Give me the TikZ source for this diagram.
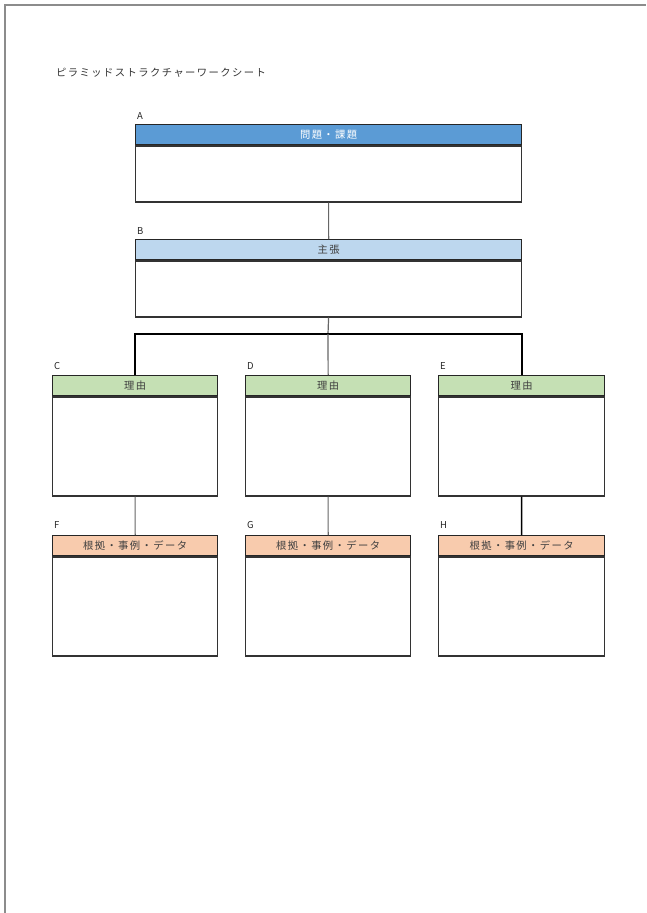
\documentclass[tikz,border=0pt]{standalone}
\usepackage{fontspec}
\setmainfont{Noto Sans CJK JP}
\newfontfamily\jp{Noto Sans CJK JP}
\newfontfamily\jpsp[LetterSpace=14]{Noto Sans CJK JP}
\definecolor{hblue}{HTML}{5B9BD5}
\definecolor{hlblue}{HTML}{BDD7EE}
\definecolor{hgreen}{HTML}{C5E0B4}
\definecolor{horange}{HTML}{F8CBAD}
\definecolor{txt}{HTML}{404040}
\definecolor{frame}{HTML}{8C8C8C}
\tikzset{
  x=1pt, y=-1pt,
  hdr/.style={draw=black!85, line width=1.3pt, anchor=north west, inner sep=0pt,
    minimum height=20pt, font=\jpsp\fontsize{10.3}{11}\selectfont, text=txt},
  body/.style={draw=black!80, line width=1.2pt, anchor=north west, inner sep=0pt, fill=white},
  lbl/.style={anchor=base west, inner sep=0pt, font=\jp\fontsize{9.5}{10}\selectfont, text=black!85},
  conn/.style={draw=black!60, line width=1.2pt},
  bar/.style={draw=black, line width=1.8pt},
}
\begin{document}
\begin{tikzpicture}
\useasboundingbox (0,0) rectangle (646,913);
% page frame
\draw[frame, line width=2pt] (5,913) -- (5,5) -- (646,5);
% title
\node[anchor=west, inner sep=0pt, font=\jpsp\fontsize{10.3}{11}\selectfont, text=black!80] (title) at (56,73) {ピラミッドストラクチャーワークシート};
% A
\node[lbl] (la) at (137,119) {A};
\node[hdr, fill=hblue, text=white, minimum width=386pt] (Ah) at (135,124) {問題・課題};
\node[body, minimum width=386pt, minimum height=56pt] (Ab) at (Ah.south west) {};
% B
\node[lbl] (lb) at (137,234) {B};
\node[hdr, fill=hlblue, minimum width=386pt] (Bh) at (135,239) {主張};
\node[body, minimum width=386pt, minimum height=56pt] (Bb) at (Bh.south west) {};
% C D E
\node[lbl] (lc) at (54,369) {C};
\node[hdr, fill=hgreen, minimum width=165pt] (Ch) at (52,375) {理由};
\node[body, minimum width=165pt, minimum height=99pt] (Cb) at (Ch.south west) {};
\node[lbl] (ld) at (247,369) {D};
\node[hdr, fill=hgreen, minimum width=165pt] (Dh) at (245,375) {理由};
\node[body, minimum width=165pt, minimum height=99pt] (Db) at (Dh.south west) {};
\node[lbl] (le) at (440,369) {E};
\node[hdr, fill=hgreen, minimum width=166pt] (Eh) at (438,375) {理由};
\node[body, minimum width=166pt, minimum height=99pt] (Eb) at (Eh.south west) {};
% F G H
\node[lbl] (lf) at (54,528) {F};
\node[hdr, fill=horange, minimum width=165pt] (Fh) at (52,535) {根拠・事例・データ};
\node[body, minimum width=165pt, minimum height=99pt] (Fb) at (Fh.south west) {};
\node[lbl] (lg) at (247,528) {G};
\node[hdr, fill=horange, minimum width=165pt] (Gh) at (245,535) {根拠・事例・データ};
\node[body, minimum width=165pt, minimum height=99pt] (Gb) at (Gh.south west) {};
\node[lbl] (lh) at (440,528) {H};
\node[hdr, fill=horange, minimum width=166pt] (Hh) at (438,535) {根拠・事例・データ};
\node[body, minimum width=166pt, minimum height=99pt] (Hb) at (Hh.south west) {};
% connectors
\coordinate (bar) at (328,334);
\draw[conn] (Ab.south) -- (Bh.north);
\draw[conn] (Bb.south) -- (bar);
\draw[bar] (Ch.north) |- (bar) -| (Eh.north);
\draw[conn] (bar) -- (Dh.north);
\draw[conn] (Cb.south) -- (Fh.north);
\draw[conn] (Db.south) -- (Gh.north);
\draw[bar, line width=1.5pt] (Eb.south) -- (Hh.north);
\end{tikzpicture}
\end{document}
